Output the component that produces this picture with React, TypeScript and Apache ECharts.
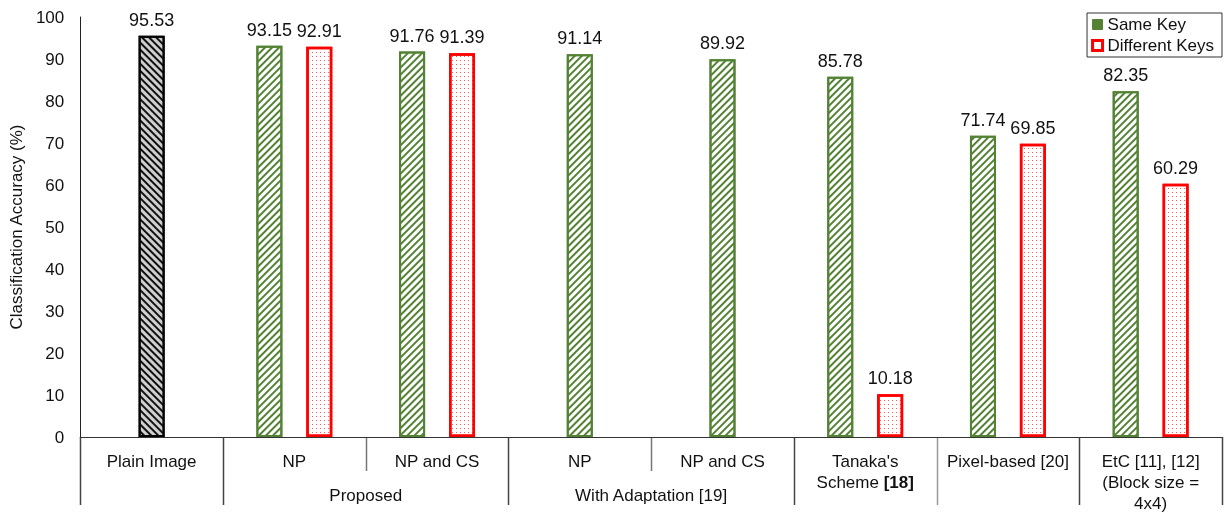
import React, { useEffect, useRef } from 'react';
import * as echarts from 'echarts';

const categories = ['Plain Image', 'NP', 'NP and CS', 'NP', 'NP and CS', "Tanaka's\nScheme {b|[18]}", 'Pixel-based [20]', 'EtC [11], [12]\n(Block size =\n4x4)'];
const groupLabels = ['', '', '', '', 'Proposed', '', '', '', 'With Adaptation [19]', '', '', '', '', '', '', '', ''];
const plainImage = [95.53, null, null, null, null, null, null, null];
const sameKeySingle = [null, null, null, 91.14, 89.92, null, null, null];
const sameKey = [null, 93.15, 91.76, null, null, 85.78, 71.74, 82.35];
const differentKeys = [null, 92.91, 91.39, null, null, 10.18, 69.85, 60.29];
// category boundaries (0 = left edge, 8 = right edge) for the table separators
const fullSeparators = [0, 1, 3, 5, 7, 8];
const shortSeparators = [2, 4];
const lightSeparators = [6];

const GREEN = '#548235';
const RED = '#ff0000';
const FONT = 'Arial, "Liberation Sans", sans-serif';

export default function App() {
  const ref = useRef<HTMLDivElement>(null);
  useEffect(() => {
    if (!ref.current) return;
    const chart = echarts.init(ref.current, null, { renderer: 'svg' });
    const label = {
      show: true,
      position: 'top',
      distance: 7,
      fontSize: 18,
      color: '#111',
      fontFamily: FONT,
      formatter: (p: any) => Number(p.value).toFixed(2),
    };
    const greenStyle = {
      color: '#fff',
      borderColor: GREEN,
      borderWidth: 2,
      decal: { symbol: 'rect', symbolSize: 1, color: GREEN, dashArrayX: [1, 0], dashArrayY: [2, 3], rotation: -Math.PI / 4 },
    };
    const redStyle = {
      color: '#fff',
      borderColor: RED,
      borderWidth: 2.5,
      decal: { symbol: 'rect', symbolSize: 1, color: 'rgba(255,0,0,0.65)', dashArrayX: [1, 3], dashArrayY: [1, 3], rotation: 0 },
    };
    const blackStyle = {
      color: '#cfcfcf',
      borderColor: '#000',
      borderWidth: 2,
      decal: { symbol: 'rect', symbolSize: 1, color: '#111', dashArrayX: [1, 0], dashArrayY: [2, 2.5], rotation: Math.PI / 4 },
    };
    const hiddenAxis = () => ({
      type: 'category',
      data: categories,
      position: 'bottom',
      axisLine: { show: false },
      axisLabel: { show: false },
      axisTick: { show: false },
    });
    chart.setOption({
      animation: false,
      grid: { left: 80, right: 4, top: 17, bottom: 74 },
      legend: {
        right: 4,
        top: 13,
        orient: 'vertical',
        align: 'left',
        borderColor: '#333',
        borderWidth: 1,
        padding: [3, 8, 3, 4],
        itemGap: 4,
        itemWidth: 10,
        itemHeight: 10,
        textStyle: { fontSize: 17, color: '#111', fontFamily: FONT },
        data: [
          { name: 'Same Key', icon: 'rect', itemStyle: { color: GREEN, borderColor: GREEN, borderWidth: 1, decal: 'none' } },
          { name: 'Different Keys', icon: 'rect', itemStyle: { color: '#fff', borderColor: RED, borderWidth: 3, decal: 'none' } },
        ],
      },
      xAxis: [
        {
          type: 'category',
          data: categories,
          position: 'bottom',
          axisLine: { show: true, lineStyle: { color: '#333', width: 1 } },
          axisTick: { show: false },
          axisLabel: {
            interval: 0,
            margin: 14,
            fontSize: 17,
            lineHeight: 21,
            color: '#111',
            fontFamily: FONT,
            rich: { b: { fontSize: 17, fontWeight: 'bold', color: '#111', fontFamily: FONT } },
          },
        },
        hiddenAxis(),
        hiddenAxis(),
        {
          type: 'category',
          data: groupLabels,
          boundaryGap: false,
          position: 'bottom',
          axisLine: { show: false },
          axisTick: { show: false },
          axisLabel: { interval: 0, margin: 50, fontSize: 17, color: '#111', fontFamily: FONT },
        },
      ],
      yAxis: {
        type: 'value',
        min: 0,
        max: 100,
        interval: 10,
        name: 'Classification Accuracy (%)',
        nameLocation: 'middle',
        nameGap: 46,
        nameTextStyle: { fontSize: 17, color: '#111', fontFamily: FONT },
        axisLine: { show: true, lineStyle: { color: '#222', width: 1 } },
        axisTick: { show: false },
        splitLine: { show: false },
        axisLabel: { margin: 16, fontSize: 17, color: '#111', fontFamily: FONT },
      },
      series: [
        { name: 'Same Key', type: 'bar', xAxisIndex: 0, data: sameKey, barWidth: 26, barGap: '92%', itemStyle: greenStyle, label },
        { name: 'Different Keys', type: 'bar', xAxisIndex: 0, data: differentKeys, barWidth: 26, barGap: '92%', itemStyle: redStyle, label },
        { name: 'Plain Image', type: 'bar', xAxisIndex: 1, data: plainImage, barWidth: 26, itemStyle: blackStyle, label },
        { name: 'Same Key', type: 'bar', xAxisIndex: 2, data: sameKeySingle, barWidth: 26, itemStyle: greenStyle, label },
      ],
    });

    // table separators at category boundaries, positioned through the axis scales
    const c0 = chart.convertToPixel({ xAxisIndex: 0 }, 0) as number;
    const c1 = chart.convertToPixel({ xAxisIndex: 0 }, 1) as number;
    const band = c1 - c0;
    const yBase = chart.convertToPixel({ yAxisIndex: 0 }, 0) as number;
    const sep = (b: number, len: number, color: string) => {
      const x = Math.round(c0 + (b - 0.5) * band) + 0.5;
      return {
        type: 'line',
        silent: true,
        shape: { x1: x, y1: yBase, x2: x, y2: yBase + len },
        style: { stroke: color, lineWidth: 1.5 },
      };
    };
    chart.setOption({
      graphic: [
        ...fullSeparators.map((b) => sep(b, 68, '#444')),
        ...shortSeparators.map((b) => sep(b, 34, '#777')),
        ...lightSeparators.map((b) => sep(b, 68, '#999')),
      ],
    });
    return () => chart.dispose();
  }, []);
  return <div ref={ref} style={{ position: 'fixed', left: 0, top: 0, width: 1226, height: 514 }} />;
}
